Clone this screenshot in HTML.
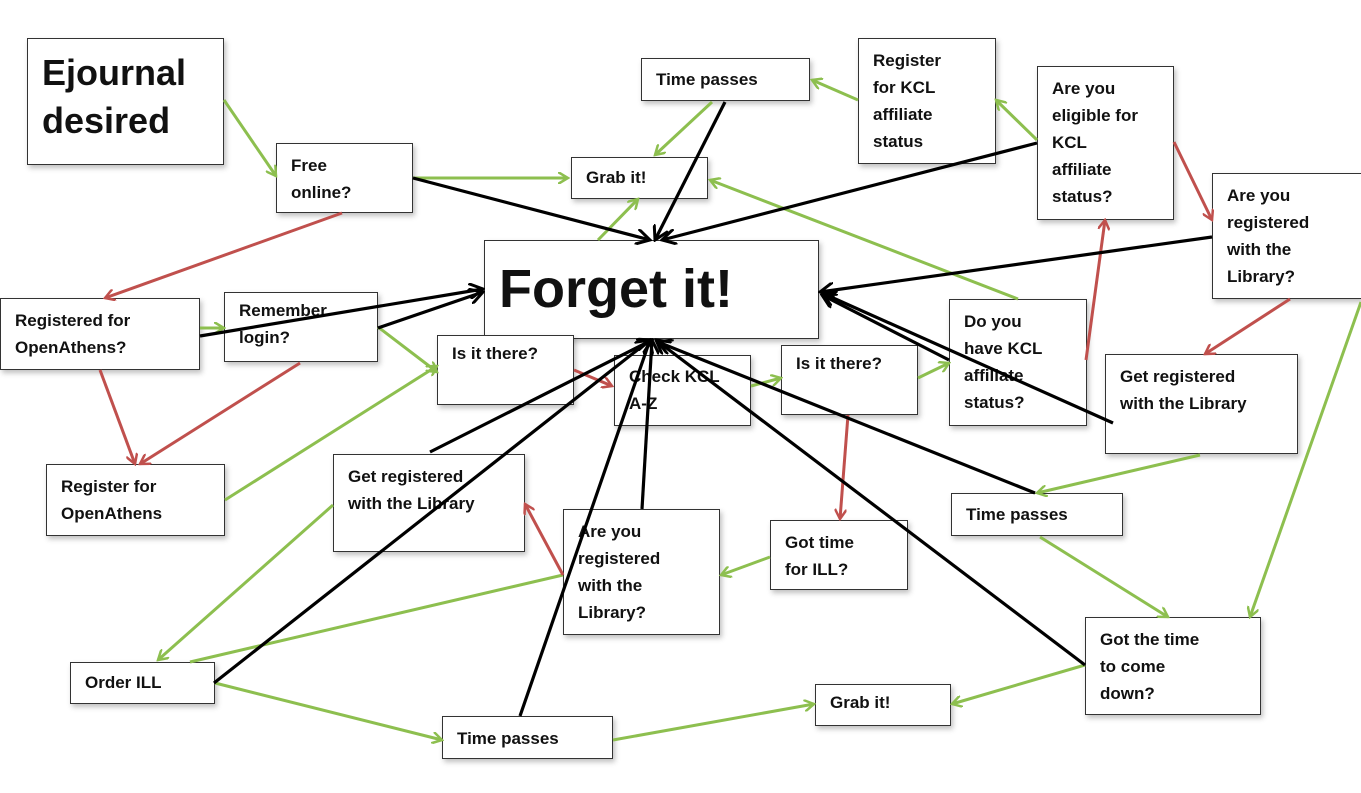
<!DOCTYPE html>
<html><head><meta charset="utf-8"><style>
body{margin:0;width:1361px;height:793px;background:#fff;position:relative;overflow:hidden;font-family:"Liberation Sans",Arial,sans-serif}
.b{position:absolute;border:1.5px solid #333;background:#fff;box-sizing:border-box;font-weight:bold;font-size:17px;line-height:27px;color:#111;padding:8px 0 0 14px;box-shadow:2px 3px 5px rgba(0,0,0,.25)}
svg{position:absolute;left:0;top:0}
</style></head><body>
<div class="b" style="left:27px;top:38px;width:197px;height:127px;font-size:36px;line-height:48px;padding:10px 0 0 14px">Ejournal desired</div>
<div class="b" style="left:276px;top:143px;width:137px;height:70px">Free<br>online?</div>
<div class="b" style="left:641px;top:58px;width:169px;height:43px;padding-top:7px">Time passes</div>
<div class="b" style="left:571px;top:157px;width:137px;height:42px;padding-top:6px">Grab it!</div>
<div class="b" style="left:858px;top:38px;width:138px;height:126px">Register<br>for KCL<br>affiliate<br>status</div>
<div class="b" style="left:1037px;top:66px;width:137px;height:154px">Are you<br>eligible for<br>KCL<br>affiliate<br>status?</div>
<div class="b" style="left:1212px;top:173px;width:150px;height:126px">Are you<br>registered<br>with the<br>Library?</div>
<div class="b" style="left:484px;top:240px;width:335px;height:99px;font-size:54px;line-height:80px;padding:8px 0 0 14px">Forget it!</div>
<div class="b" style="left:0px;top:298px;width:200px;height:72px">Registered for<br>OpenAthens?</div>
<div class="b" style="left:224px;top:292px;width:154px;height:70px;padding-top:4px">Remember<br>login?</div>
<div class="b" style="left:437px;top:335px;width:137px;height:70px;padding-top:4px">Is it there?</div>
<div class="b" style="left:614px;top:355px;width:137px;height:71px;padding-top:7px">Check KCL<br>A-Z</div>
<div class="b" style="left:781px;top:345px;width:137px;height:70px;padding-top:4px">Is it there?</div>
<div class="b" style="left:949px;top:299px;width:138px;height:127px">Do you<br>have KCL<br>affiliate<br>status?</div>
<div class="b" style="left:1105px;top:354px;width:193px;height:100px">Get registered<br>with the Library</div>
<div class="b" style="left:46px;top:464px;width:179px;height:72px">Register for<br>OpenAthens</div>
<div class="b" style="left:333px;top:454px;width:192px;height:98px">Get registered<br>with the Library</div>
<div class="b" style="left:563px;top:509px;width:157px;height:126px">Are you<br>registered<br>with the<br>Library?</div>
<div class="b" style="left:770px;top:520px;width:138px;height:70px">Got time<br>for ILL?</div>
<div class="b" style="left:951px;top:493px;width:172px;height:43px;padding-top:7px">Time passes</div>
<div class="b" style="left:1085px;top:617px;width:176px;height:98px">Got the time<br>to come<br>down?</div>
<div class="b" style="left:70px;top:662px;width:145px;height:42px;padding-top:6px">Order ILL</div>
<div class="b" style="left:815px;top:684px;width:136px;height:42px;padding-top:4px">Grab it!</div>
<div class="b" style="left:442px;top:716px;width:171px;height:43px;padding-top:8px">Time passes</div>
<svg width="1361" height="793" viewBox="0 0 1361 793">
<defs>
<marker id="g" markerWidth="12" markerHeight="12" refX="10" refY="6" orient="auto" markerUnits="userSpaceOnUse"><path d="M0,0 L10,6 L0,12" fill="none" stroke="#8dbf4f" stroke-width="2.5"/></marker>
<marker id="r" markerWidth="12" markerHeight="12" refX="10" refY="6" orient="auto" markerUnits="userSpaceOnUse"><path d="M0,0 L10,6 L0,12" fill="none" stroke="#c0504d" stroke-width="2.5"/></marker>
<marker id="k" markerWidth="16" markerHeight="16" refX="14" refY="8" orient="auto" markerUnits="userSpaceOnUse"><path d="M0,0 L14,8 L0,16" fill="none" stroke="#000" stroke-width="3"/></marker>
</defs>
<g stroke="#8dbf4f" stroke-width="3" fill="none" marker-end="url(#g)">
<line x1="224" y1="100" x2="276" y2="176"/>
<line x1="413" y1="178" x2="568" y2="178"/>
<line x1="712" y1="102" x2="655" y2="155"/>
<line x1="858" y1="100" x2="812" y2="80"/>
<line x1="1037" y1="140" x2="996" y2="100"/>
<line x1="1018" y1="299" x2="710" y2="180"/>
<line x1="598" y1="240" x2="638" y2="199"/>
<line x1="200" y1="328" x2="224" y2="328"/>
<line x1="378" y1="327" x2="437" y2="372"/>
<line x1="225" y1="500" x2="437" y2="366"/>
<line x1="751" y1="386" x2="781" y2="378"/>
<line x1="918" y1="378" x2="949" y2="363"/>
<line x1="1200" y1="455" x2="1037" y2="493"/>
<line x1="1361" y1="302" x2="1250" y2="617"/>
<line x1="1040" y1="537" x2="1168" y2="617"/>
<line x1="1085" y1="665" x2="952" y2="704"/>
<line x1="613" y1="740" x2="814" y2="704"/>
<line x1="215" y1="683" x2="442" y2="740"/>
<line x1="770" y1="557" x2="721" y2="575"/>
<line x1="333" y1="505" x2="158" y2="660"/>
<line x1="563" y1="575" x2="190" y2="662" marker-end="none"/>
</g>
<g stroke="#c0504d" stroke-width="3" fill="none" marker-end="url(#r)">
<line x1="342" y1="213" x2="105" y2="298"/>
<line x1="100" y1="370" x2="135" y2="464"/>
<line x1="300" y1="363" x2="140" y2="464"/>
<line x1="574" y1="370" x2="612" y2="386"/>
<line x1="848" y1="415" x2="840" y2="519"/>
<line x1="1086" y1="360" x2="1105" y2="220"/>
<line x1="1174" y1="142" x2="1212" y2="220"/>
<line x1="1290" y1="299" x2="1205" y2="354"/>
<line x1="563" y1="575" x2="525" y2="504"/>
</g>
<g stroke="#000" stroke-width="3.2" fill="none" marker-end="url(#k)">
<line x1="413" y1="178" x2="650" y2="240"/>
<line x1="725" y1="102" x2="655" y2="240"/>
<line x1="1037" y1="143" x2="662" y2="240"/>
<line x1="1212" y1="237" x2="820" y2="292"/>
<line x1="949" y1="360" x2="822" y2="295"/>
<line x1="1113" y1="423" x2="822" y2="293"/>
<line x1="200" y1="336" x2="483" y2="289"/>
<line x1="378" y1="328" x2="483" y2="292"/>
<line x1="430" y1="452" x2="652" y2="340"/>
<line x1="214" y1="683" x2="650" y2="340"/>
<line x1="520" y1="716" x2="650" y2="340"/>
<line x1="642" y1="509" x2="652" y2="340"/>
<line x1="1085" y1="665" x2="656" y2="340"/>
<line x1="1035" y1="493" x2="658" y2="342"/>
</g>
</svg>
</body></html>
